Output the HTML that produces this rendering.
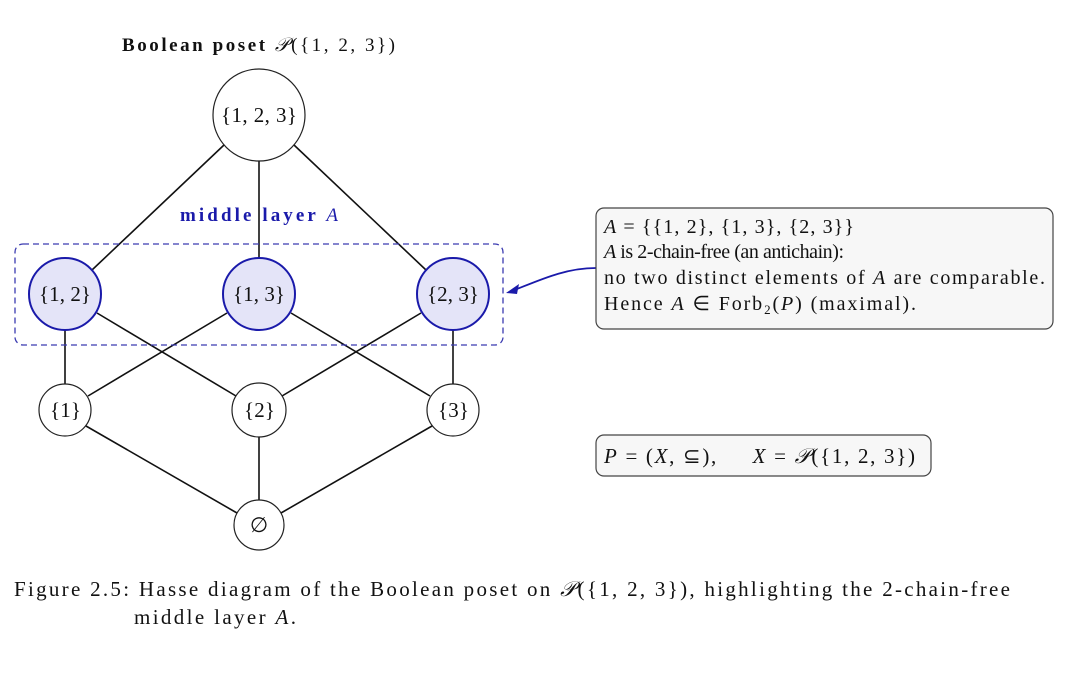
<!DOCTYPE html>
<html><head><meta charset="utf-8"><style>
body{margin:0;width:1080px;height:671px;background:#fff;overflow:hidden}
svg text{font-family:"Liberation Serif",serif;fill:#111}
</style></head><body>
<svg width="1080" height="671" viewBox="0 0 1080 671">
<g stroke="#111" stroke-width="1.6" fill="none">
<line x1="224" y1="145" x2="92" y2="270"/>
<line x1="259" y1="161" x2="259" y2="258"/>
<line x1="294" y1="145" x2="426" y2="270"/>
<line x1="65" y1="330" x2="65" y2="385"/>
<line x1="97" y1="313" x2="236" y2="396"/>
<line x1="227" y1="313" x2="88" y2="396"/>
<line x1="291" y1="313" x2="430" y2="396"/>
<line x1="421" y1="313" x2="282" y2="396"/>
<line x1="453" y1="330" x2="453" y2="385"/>
<line x1="86" y1="426" x2="237" y2="513"/>
<line x1="259" y1="437" x2="259" y2="500"/>
<line x1="432" y1="426" x2="281" y2="513"/>
</g>
<rect x="15" y="244" width="488" height="101" rx="8" fill="none" stroke="#3a3ab0" stroke-width="1.3" stroke-dasharray="6,4"/>
<circle cx="259" cy="115" r="46" fill="#fff" stroke="#222" stroke-width="1.2"/>
<g fill="#e4e4f8" stroke="#1a1aaa" stroke-width="2">
<circle cx="65" cy="294" r="36"/><circle cx="259" cy="294" r="36"/><circle cx="453" cy="294" r="36"/>
</g>
<g fill="#fff" stroke="#222" stroke-width="1.2">
<circle cx="65" cy="410" r="26"/><circle cx="259" cy="410" r="27"/><circle cx="453" cy="410" r="26"/><circle cx="259" cy="525" r="25"/>
</g>
<g font-size="21">
<text x="221" y="122" textLength="76" lengthAdjust="spacing">{1, 2, 3}</text>
<text x="39" y="301" textLength="52" lengthAdjust="spacing">{1, 2}</text>
<text x="233" y="301" textLength="52" lengthAdjust="spacing">{1, 3}</text>
<text x="427" y="301" textLength="52" lengthAdjust="spacing">{2, 3}</text>
<text x="50" y="417" textLength="31" lengthAdjust="spacing">{1}</text>
<text x="244" y="417" textLength="31" lengthAdjust="spacing">{2}</text>
<text x="438" y="417" textLength="31" lengthAdjust="spacing">{3}</text>
<text x="259" y="532" text-anchor="middle">∅</text>
</g>
<text x="122" y="51" font-size="19" font-weight="bold" textLength="273" lengthAdjust="spacing">Boolean poset <tspan font-weight="normal" font-style="italic">𝒫</tspan><tspan font-weight="normal">({1, 2, 3})</tspan></text>
<text x="180" y="221" font-size="19" font-weight="bold" style="fill:#1a1aaa" textLength="158" lengthAdjust="spacing">middle layer <tspan font-style="italic" font-weight="normal">A</tspan></text>
<path d="M596 268 C565 268 540 280 512 291" fill="none" stroke="#1a1aaa" stroke-width="1.8"/>
<polygon points="506,293 519,284 517,294" fill="#1a1aaa"/>
<rect x="596" y="208" width="457" height="121" rx="8" fill="#f7f7f7" stroke="#444" stroke-width="1.2"/>
<g font-size="20">
<text x="604" y="233" textLength="250" lengthAdjust="spacing"><tspan font-style="italic">A</tspan> = {{1, 2}, {1, 3}, {2, 3}}</text>
<text x="604" y="258" textLength="240" lengthAdjust="spacing"><tspan font-style="italic">A</tspan> is 2-chain-free (an antichain):</text>
<text x="604" y="284" textLength="441" lengthAdjust="spacing">no two distinct elements of <tspan font-style="italic">A</tspan> are comparable.</text>
<text x="604" y="310" textLength="312" lengthAdjust="spacing">Hence <tspan font-style="italic">A</tspan> ∈ Forb<tspan font-size="13" dy="4">2</tspan><tspan dy="-4">(</tspan><tspan font-style="italic">P</tspan>) (maximal).</text>
</g>
<rect x="596" y="435" width="335" height="41" rx="8" fill="#f7f7f7" stroke="#444" stroke-width="1.2"/>
<text x="604" y="463" font-size="21" textLength="311" lengthAdjust="spacing" xml:space="preserve"><tspan font-style="italic">P</tspan> = (<tspan font-style="italic">X</tspan>, ⊆),     <tspan font-style="italic">X</tspan> = <tspan font-style="italic">𝒫</tspan>({1, 2, 3})</text>
<g font-size="21">
<text x="14" y="596" textLength="996" lengthAdjust="spacing">Figure 2.5: Hasse diagram of the Boolean poset on <tspan font-style="italic">𝒫</tspan>({1, 2, 3}), highlighting the 2-chain-free</text>
<text x="134" y="624" textLength="162" lengthAdjust="spacing">middle layer <tspan font-style="italic">A</tspan>.</text>
</g>
</svg>
</body></html>
